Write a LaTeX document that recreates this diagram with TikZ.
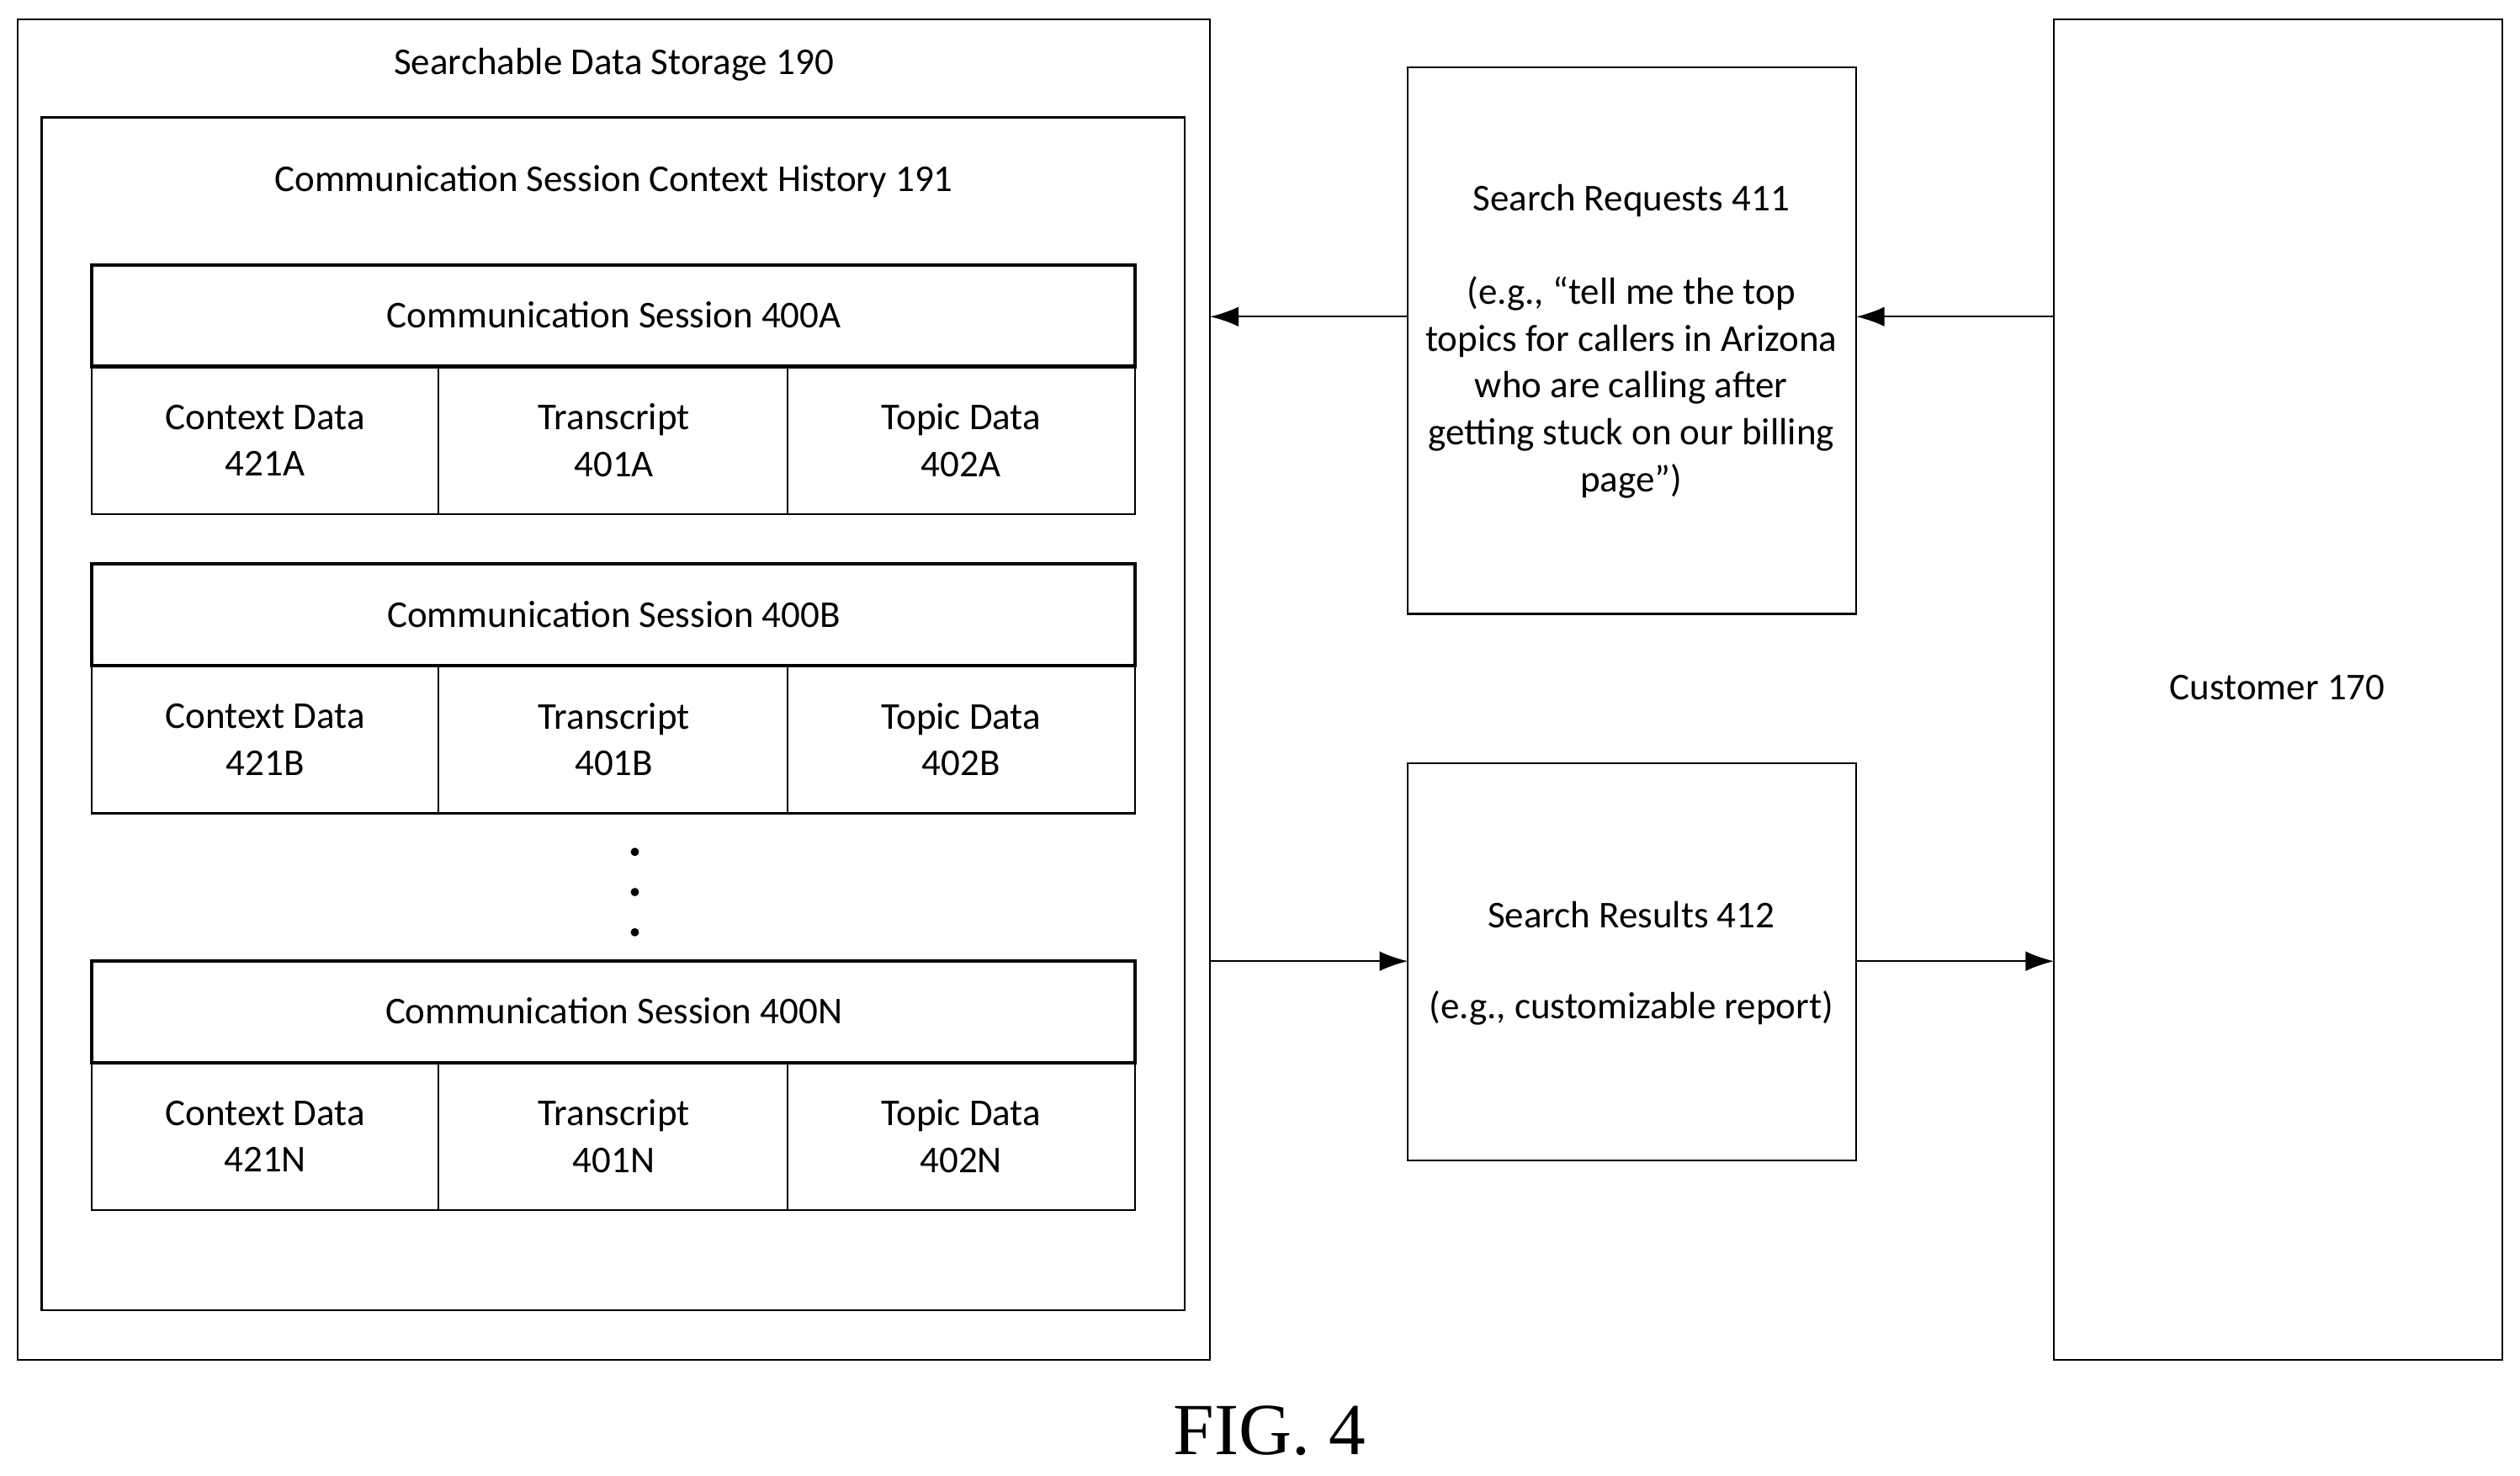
\documentclass[tikz,border=0pt]{standalone}
\usepackage{fontspec}
\setmainfont{Carlito}
\newfontfamily\figfont{Liberation Serif}
\usetikzlibrary{arrows.meta}
\begin{document}
\begin{tikzpicture}[x=0.01cm,y=-0.01cm,
  box/.style={draw,line width=0.35pt},
  hdr/.style={draw,line width=0.6pt},
  cell/.style={draw,line width=0.3pt},
  txt/.style={font=\fontsize{6.7}{8.3}\selectfont,align=center,inner sep=0},
  arr/.style={-{Latex[length=5pt,width=3.5pt]},line width=0.3pt}]
\useasboundingbox (0,0) rectangle (1568,918);
\draw[box] (11,12) rectangle (753,846);
\coordinate (stR1) at (753,197); \coordinate (stR2) at (753,598);
\node[txt] (t190) at (382,40) {Searchable Data Storage 190};
\draw[box] (26,73) rectangle (737,815);
\node[txt] (t191) at (382,113) {Communication Session Context History 191};
\foreach \id/\yh/\s in {a/165/400A, b/351/400B, n/598/400N}{
  \draw[cell] (57,\yh+63) rectangle (706,\yh+155);
  \draw[cell] (273,\yh+63) -- (273,\yh+155);
  \draw[cell] (490,\yh+63) -- (490,\yh+155);
  \draw[hdr] (57,\yh) rectangle (706,\yh+63);
  \node[txt] (h\id) at (382,\yh+31) {Communication Session \s};
}
\node[txt] (ca) at (165,274) {Context Data\\421A};
\node[txt] (ta) at (382,274) {Transcript\\401A};
\node[txt] (pa) at (598,274) {Topic Data\\402A};
\node[txt] (cb) at (165,460) {Context Data\\421B};
\node[txt] (tb) at (382,460) {Transcript\\401B};
\node[txt] (pb) at (598,460) {Topic Data\\402B};
\node[txt] (cn) at (165,707) {Context Data\\421N};
\node[txt] (tn) at (382,707) {Transcript\\401N};
\node[txt] (pn) at (598,707) {Topic Data\\402N};
\foreach \yy in {530,555,580} \fill (395,\yy) circle (2.6);
\draw[box] (876,42) rectangle (1155,382);
\coordinate (rqL) at (876,197); \coordinate (rqR) at (1155,197);
\node[txt] (rq) at (1015,125) {Search Requests 411};
\node[txt] (rqe) at (1015,241) {(e.g., “tell me the top\\topics for callers in Arizona\\who are calling after\\getting stuck on our billing\\page”)};
\draw[box] (876,475) rectangle (1155,722);
\coordinate (rsL) at (876,598); \coordinate (rsR) at (1155,598);
\node[txt] (rs) at (1015,569) {Search Results 412};
\node[txt] (rse) at (1015,627) {(e.g., customizable report)};
\draw[box] (1278,12) rectangle (1557,846);
\coordinate (cuL1) at (1278,197); \coordinate (cuL2) at (1278,598);
\node[txt] (cu) at (1417,428) {Customer 170};
\draw[arr] (cuL1) -- (rqR);
\draw[arr] (rqL) -- (stR1);
\draw[arr] (stR2) -- (rsL);
\draw[arr] (rsR) -- (cuL2);
\node[font=\figfont\fontsize{13}{15}\selectfont,inner sep=0] (fig) at (790,890) {FIG. 4};
\end{tikzpicture}
\end{document}
